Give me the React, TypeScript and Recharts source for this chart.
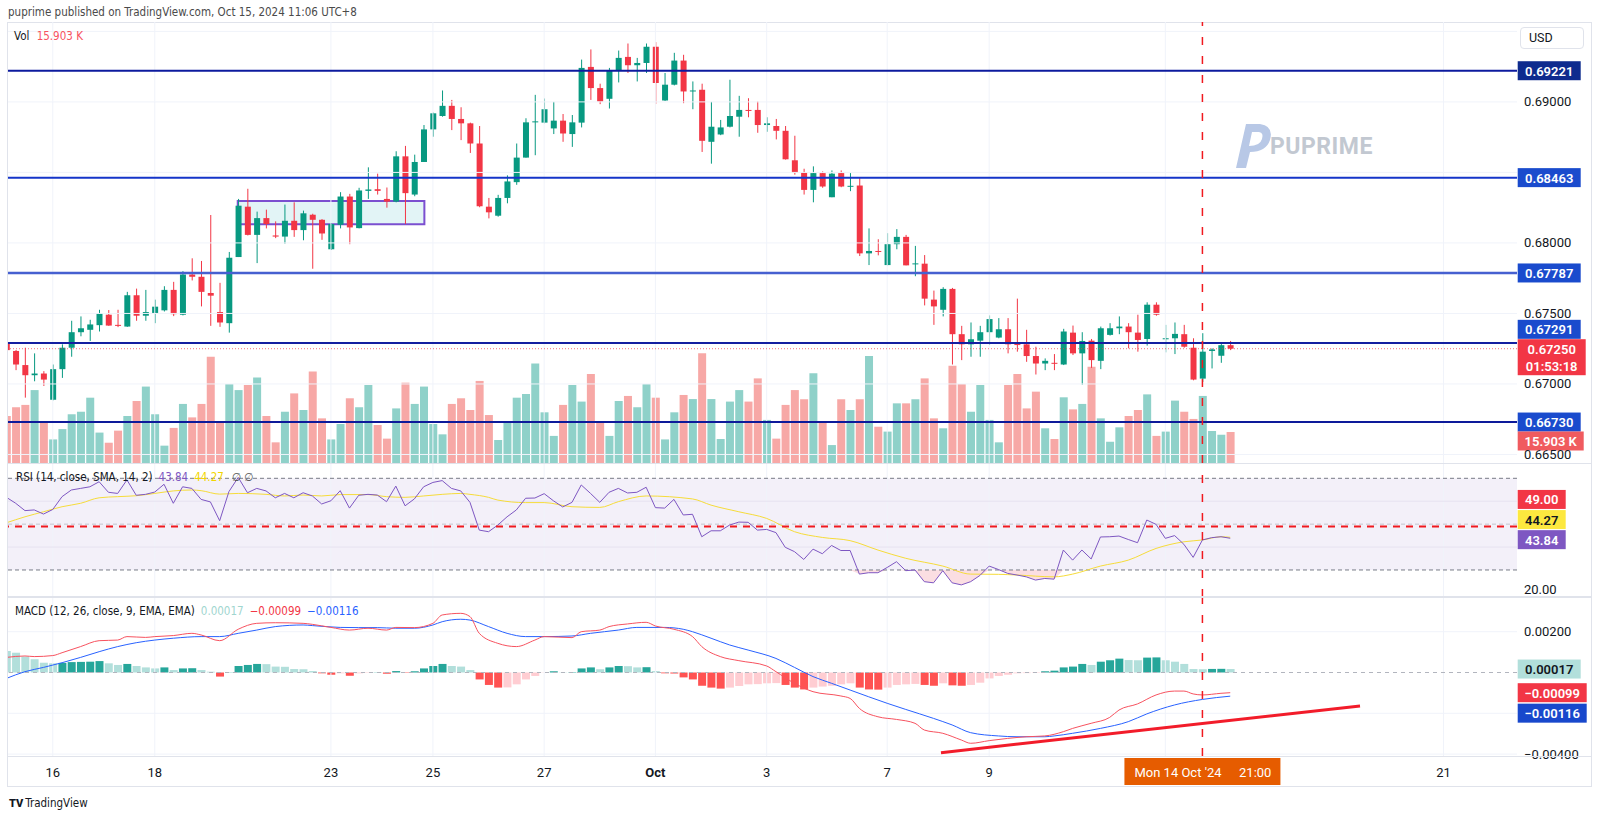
import React from "react";
import {
  ComposedChart,
  Bar,
  Line,
  Area,
  XAxis,
  YAxis,
  ReferenceLine,
  ReferenceArea,
  Cell,
} from "recharts";

const FONT = "Roboto, 'Noto Sans', sans-serif";
const NARROW = "'Liberation Sans Narrow', 'DejaVu Sans Condensed', Roboto, sans-serif";

const UP = "#089981";
const DOWN = "#f23645";
const GRID = "#f0f3fa";
const CURSOR = "#f0191f";

// x is the 4h candle index; index 0 is the half-hidden bar at the left edge
const X_DOMAIN: [number, number] = [0.17, 162.93];
const CURSOR_INDEX = 129;

const opens = [
  0.6729, 0.67234, 0.67134, 0.67062, 0.67074, 0.66888, 0.67105, 0.67257, 0.67367, 0.67384,
  0.67417, 0.67491, 0.67419, 0.67407, 0.67629, 0.67484, 0.67503, 0.67522, 0.67667, 0.67491,
  0.67776, 0.6776, 0.67645, 0.6751, 0.67431, 0.679, 0.68257, 0.68057, 0.68176, 0.68053,
  0.68045, 0.68157, 0.68091, 0.682, 0.68164, 0.67955, 0.68129, 0.68329, 0.68105, 0.68369,
  0.68381, 0.68312, 0.68293, 0.68614, 0.68343, 0.68574, 0.68805, 0.689, 0.68972, 0.68879,
  0.68848, 0.68705, 0.68257, 0.68193, 0.68319, 0.68431, 0.68605, 0.68855, 0.68853, 0.68812,
  0.68867, 0.68772, 0.68853, 0.69248, 0.69098, 0.69022, 0.69224, 0.69319, 0.6926, 0.69276,
  0.69391, 0.6901, 0.69122, 0.69293, 0.69074, 0.69086, 0.68717, 0.68769, 0.68824, 0.68895,
  0.68943, 0.68943, 0.68836, 0.68829, 0.68795, 0.68586, 0.68498, 0.68376, 0.68495, 0.68324,
  0.68495, 0.684, 0.68407, 0.67926, 0.67943, 0.67843, 0.67991, 0.68043, 0.67848, 0.67853,
  0.67598, 0.67526, 0.67674, 0.67353, 0.67281, 0.67307, 0.67367, 0.67329, 0.67388, 0.67283,
  0.67281, 0.67198, 0.67145, 0.6715, 0.67138, 0.67364, 0.67217, 0.67307, 0.67164, 0.67348,
  0.67395, 0.67407, 0.67364, 0.67319, 0.67562, 0.67319, 0.67324, 0.67353, 0.67257, 0.67038,
  0.67234, 0.672, 0.67275,
];
const highs = [
  0.673, 0.67241, 0.67257, 0.67217, 0.67091, 0.67138, 0.67281, 0.67448, 0.67479, 0.67455,
  0.67526, 0.67524, 0.67526, 0.67653, 0.67676, 0.67667, 0.67598, 0.67693, 0.67724, 0.678,
  0.67891, 0.67872, 0.68198, 0.67717, 0.67936, 0.68312, 0.68384, 0.68222, 0.68236, 0.68153,
  0.68272, 0.68288, 0.68229, 0.68207, 0.68169, 0.68141, 0.6836, 0.68348, 0.68391, 0.68536,
  0.68491, 0.68393, 0.6865, 0.68688, 0.68626, 0.68836, 0.68924, 0.69081, 0.69014, 0.68962,
  0.68853, 0.68829, 0.68319, 0.68341, 0.68479, 0.68705, 0.68884, 0.6905, 0.69024, 0.69,
  0.68914, 0.68907, 0.693, 0.69372, 0.69129, 0.69241, 0.69364, 0.69414, 0.69312, 0.69414,
  0.69424, 0.69205, 0.69348, 0.69334, 0.69145, 0.69129, 0.69, 0.68872, 0.69157, 0.69043,
  0.69026, 0.69003, 0.68891, 0.68879, 0.68829, 0.6876, 0.68526, 0.68543, 0.68507, 0.68514,
  0.68514, 0.68495, 0.6846, 0.68103, 0.68026, 0.68069, 0.68098, 0.68057, 0.67979, 0.67914,
  0.67662, 0.67686, 0.67681, 0.67412, 0.67436, 0.67412, 0.67486, 0.67467, 0.67467, 0.67605,
  0.67384, 0.67264, 0.67181, 0.67212, 0.67391, 0.67414, 0.67367, 0.67319, 0.67407, 0.67431,
  0.67479, 0.67431, 0.67491, 0.67579, 0.67579, 0.67419, 0.67436, 0.67419, 0.67324, 0.6736,
  0.67253, 0.6729, 0.67305,
];
const lows = [
  0.6721, 0.67098, 0.66903, 0.67019, 0.66986, 0.66884, 0.67043, 0.67193, 0.67338, 0.67305,
  0.67372, 0.67412, 0.67403, 0.67405, 0.67448, 0.67448, 0.67431, 0.67514, 0.67481, 0.67486,
  0.67734, 0.6755, 0.67412, 0.67405, 0.67364, 0.679, 0.68053, 0.67857, 0.68103, 0.68034,
  0.67995, 0.68043, 0.68019, 0.67817, 0.68022, 0.6795, 0.68103, 0.67991, 0.68103, 0.68312,
  0.68343, 0.6825, 0.68288, 0.68134, 0.68331, 0.68574, 0.68753, 0.68895, 0.688, 0.68729,
  0.68638, 0.68253, 0.68174, 0.68186, 0.68281, 0.68412, 0.68605, 0.68622, 0.68848, 0.68772,
  0.68717, 0.68681, 0.68819, 0.69014, 0.68984, 0.68953, 0.69138, 0.69205, 0.69145, 0.69205,
  0.68986, 0.69007, 0.69117, 0.68991, 0.68948, 0.68645, 0.68562, 0.68764, 0.68819, 0.68753,
  0.68891, 0.68781, 0.68788, 0.68734, 0.68591, 0.68484, 0.68343, 0.68288, 0.68391, 0.68324,
  0.68395, 0.68367, 0.67907, 0.67843, 0.67912, 0.67841, 0.67955, 0.67841, 0.67764, 0.67557,
  0.67419, 0.67479, 0.67138, 0.67169, 0.67193, 0.67193, 0.67276, 0.67324, 0.67217, 0.67229,
  0.67157, 0.67067, 0.67098, 0.67098, 0.67134, 0.67205, 0.66995, 0.67114, 0.67105, 0.67343,
  0.67353, 0.67253, 0.67229, 0.67272, 0.67484, 0.67224, 0.67212, 0.67257, 0.67026, 0.67014,
  0.6711, 0.6715, 0.6724,
];
const closes = [
  0.6724, 0.67138, 0.67062, 0.67074, 0.67031, 0.67105, 0.67257, 0.67367, 0.67395, 0.67422,
  0.67503, 0.67414, 0.67412, 0.67629, 0.67484, 0.6751, 0.67548, 0.67667, 0.67495, 0.67776,
  0.6776, 0.67653, 0.67626, 0.67436, 0.67895, 0.68264, 0.68057, 0.68176, 0.68134, 0.68045,
  0.68157, 0.68091, 0.6821, 0.68164, 0.68067, 0.68134, 0.68329, 0.6811, 0.68372, 0.68379,
  0.68369, 0.68293, 0.68614, 0.68353, 0.68574, 0.68805, 0.68919, 0.68972, 0.68879, 0.68848,
  0.68705, 0.6826, 0.68217, 0.68319, 0.68436, 0.68605, 0.68855, 0.68862, 0.68948, 0.68867,
  0.68776, 0.68855, 0.69241, 0.69098, 0.69003, 0.69224, 0.69312, 0.6926, 0.69276, 0.69391,
  0.69134, 0.69122, 0.69293, 0.69074, 0.69081, 0.68724, 0.68824, 0.68819, 0.689, 0.68943,
  0.68936, 0.68836, 0.68848, 0.68795, 0.68593, 0.68498, 0.68376, 0.68495, 0.684, 0.68491,
  0.684, 0.68405, 0.67926, 0.67943, 0.67938, 0.67991, 0.68043, 0.67841, 0.67855, 0.67605,
  0.6755, 0.67674, 0.67353, 0.67281, 0.67317, 0.67367, 0.6746, 0.67388, 0.67281, 0.67279,
  0.67198, 0.67145, 0.67164, 0.67145, 0.67372, 0.67217, 0.67305, 0.67169, 0.67395, 0.67395,
  0.67407, 0.67367, 0.67312, 0.67562, 0.67491, 0.67324, 0.67355, 0.67264, 0.67031, 0.67229,
  0.67245, 0.67275, 0.6725,
];
// volume in thousands
const volumes = [
  24.1, 28.6, 29.8, 37.4, 21.2, 12.1, 17.4, 25.0, 26.3, 33.5,
  15.6, 10.4, 16.6, 24.1, 31.8, 39.2, 25.0, 8.9, 18.0, 30.3,
  23.4, 30.3, 54.5, 20.7, 40.5, 37.4, 40.0, 43.9, 24.1, 10.6,
  26.3, 35.7, 27.2, 46.9, 22.9, 12.1, 20.0, 33.2, 28.6, 40.0,
  19.5, 12.5, 28.0, 41.2, 30.3, 39.2, 20.0, 14.7, 30.3, 33.2,
  27.2, 42.1, 24.6, 11.8, 21.2, 33.5, 35.4, 51.1, 26.0, 13.9,
  29.8, 40.0, 31.5, 45.7, 21.2, 13.9, 31.8, 34.4, 28.6, 40.5,
  33.5, 12.1, 26.0, 34.9, 32.8, 56.3, 32.8, 12.3, 31.5, 37.4,
  31.5, 43.4, 22.1, 12.5, 29.8, 37.4, 32.7, 46.0, 21.2, 9.2,
  32.7, 27.2, 32.7, 54.9, 18.6, 16.1, 30.6, 30.6, 32.7, 43.4,
  22.9, 17.8, 49.9, 40.5, 26.3, 40.0, 22.1, 10.6, 40.0, 45.7,
  28.0, 36.6, 17.8, 12.3, 33.7, 27.5, 30.3, 49.4, 22.9, 10.9,
  18.3, 24.1, 27.2, 35.2, 13.9, 16.1, 32.0, 26.3, 22.6, 34.4,
  16.4, 14.5, 15.9,
];
const rsiValues = [
  61.7, 59.1, 55.9, 56.2, 54.4, 56.4, 62.0, 64.9, 65.6, 66.3,
  68.5, 63.9, 63.4, 69.3, 62.6, 63.0, 64.0, 67.4, 59.1, 66.3,
  65.6, 60.8, 59.7, 51.5, 64.2, 70.4, 63.7, 65.6, 64.5, 61.5,
  63.4, 61.5, 63.7, 62.3, 58.8, 60.2, 64.6, 57.0, 62.6, 63.0,
  62.7, 59.8, 66.6, 58.0, 61.0, 66.3, 68.2, 69.0, 65.6, 64.5,
  59.5, 47.4, 46.7, 49.6, 53.2, 56.2, 61.3, 61.4, 63.3, 60.2,
  57.5, 59.5, 67.1, 63.4, 59.5, 63.9, 65.6, 63.6, 63.9, 66.1,
  57.2, 57.0, 60.8, 54.0, 54.3, 44.5, 47.1, 47.1, 49.6, 50.9,
  50.8, 47.4, 47.7, 46.3, 39.9, 38.0, 34.6, 39.1, 37.1, 40.7,
  38.5, 38.5, 28.2, 28.8, 28.8, 31.1, 33.6, 29.7, 30.0, 24.9,
  24.4, 29.7, 24.4, 23.5, 24.9, 27.6, 31.7, 30.2, 28.5, 27.8,
  27.0, 25.6, 26.3, 26.0, 38.7, 34.3, 38.7, 34.8, 44.4, 44.5,
  44.8, 43.3, 41.9, 51.8, 49.9, 43.8, 45.0, 41.2, 35.5, 43.1,
  44.1, 44.5, 43.84,
];
// [candle index, value]
const rsiSmaPoints: [number, number][] = [
  [0, 50.6], [2, 53.2], [4, 55.4], [6, 57.6], [8, 59.1], [10, 61.5], [12, 62.0], [14, 62.4],
  [16, 63.4], [18, 64.5], [20, 64.9], [21, 64.6], [23, 63.1], [25, 63.4], [28, 63.0], [30, 62.3],
  [32, 62.7], [34, 62.3], [36, 62.9], [39, 62.9], [41, 62.0], [43, 61.7], [45, 62.3], [47, 63.0],
  [49, 63.4], [50, 63.0], [52, 61.7], [53, 60.5], [56, 59.4], [58, 59.4], [61, 57.6], [64, 57.3],
  [66, 59.8], [69, 62.3], [74, 61.0], [76, 58.3], [79, 55.4], [82, 52.5], [85, 46.7], [88, 44.2],
  [91, 42.8], [94, 38.7], [97, 35.1], [101, 31.7], [104, 28.2], [107, 28.1], [109, 27.8], [113, 27.0],
  [115, 28.2], [118, 31.7], [121, 34.3], [124, 39.4], [127, 42.3], [129, 43.1], [131, 44.5], [132, 44.27],
];
const histValues = [
  0.00105, 0.00097, 0.00078, 0.00065, 0.00048, 0.00045, 0.00047, 0.00051, 0.00052, 0.00053,
  0.00056, 0.00045, 0.00037, 0.00042, 0.00032, 0.00025, 0.0002, 0.00025, 0.00012, 0.0002,
  0.00021, 0.00012, 0.00004, -0.0002, 0.00001, 0.00032, 0.00037, 0.00042, 0.00041, 0.00029,
  0.00028, 0.00017, 0.00016, 0.00007, -0.00004, -0.00011, -0.00004, -0.00016, -0.00004, -0.00002,
  0.00001, -0.00006, 0.00007, -0.00002, 0.00006, 0.0002, 0.00032, 0.00042, 0.00032, 0.00029,
  0.00012, -0.00034, -0.00061, -0.00074, -0.00073, -0.00058, -0.00034, -0.00017, -0.00001, 0.00006,
  0.00001, 0.00002, 0.0002, 0.00025, 0.00016, 0.00025, 0.00032, 0.00031, 0.00025, 0.00026,
  0.00007, -0.00004, -0.00005, -0.00024, -0.00034, -0.00065, -0.00074, -0.00079, -0.00074, -0.00066,
  -0.00058, -0.00057, -0.00053, -0.00052, -0.00061, -0.00074, -0.00083, -0.00074, -0.00069, -0.00065,
  -0.00058, -0.00053, -0.00074, -0.00083, -0.00084, -0.00074, -0.00061, -0.00058, -0.00056, -0.00061,
  -0.00065, -0.00053, -0.00063, -0.00065, -0.00061, -0.0005, -0.00029, -0.00017, -0.00011, -0.00004,
  -0.00003, -0.00002, 0.00006, 0.00009, 0.00025, 0.00029, 0.00042, 0.00037, 0.00053, 0.0006,
  0.00068, 0.00061, 0.0006, 0.00073, 0.00074, 0.0006, 0.00053, 0.00042, 0.00017, 0.00016,
  0.000175, 0.00018, 0.00017,
];
const macdPoints: [number, number][] = [
  [0, 0.00074], [2, 0.00081], [3, 0.00078], [5, 0.00083], [6, 0.00097], [8, 0.00127], [10, 0.00156],
  [12, 0.00159], [13, 0.00176], [15, 0.00172], [16, 0.00176], [18, 0.00181], [20, 0.00192], [21, 0.00184],
  [23, 0.00156], [25, 0.00212], [27, 0.00241], [29, 0.00244], [32, 0.00241], [33, 0.00236], [35, 0.00221],
  [37, 0.00208], [39, 0.00217], [41, 0.00208], [42, 0.00221], [44, 0.0022], [46, 0.00241], [47, 0.00282],
  [49, 0.0029], [50, 0.00274], [51, 0.00192], [53, 0.00143], [55, 0.00127], [57, 0.00159], [58, 0.00176],
  [61, 0.00171], [62, 0.002], [64, 0.00208], [65, 0.00225], [67, 0.00238], [69, 0.00246], [70, 0.00228],
  [72, 0.00212], [74, 0.00176], [75, 0.00127], [77, 0.00078], [79, 0.00058], [82, 0.00032], [83, 0.00004],
  [85, -0.00053], [87, -0.00094], [90, -0.00115], [91, -0.00127], [92, -0.00176], [94, -0.00217],
  [96, -0.0023], [98, -0.00249], [99, -0.00282], [101, -0.00298], [103, -0.00331], [104, -0.00347],
  [106, -0.00334], [108, -0.00323], [110, -0.00315], [112, -0.00311], [114, -0.0029], [115, -0.00274],
  [117, -0.00249], [119, -0.0022], [120, -0.00184], [122, -0.00154], [124, -0.0011], [126, -0.00091],
  [127, -0.00091], [128, -0.00105], [129, -0.0011], [131, -0.00102], [132, -0.00099],
];
const signalPoints: [number, number][] = [
  [0, -0.00029], [2, 0.00004], [4, 0.00025], [6, 0.00048], [8, 0.00074], [10, 0.00102], [12, 0.00127],
  [14, 0.00146], [16, 0.00159], [18, 0.00168], [21, 0.00176], [23, 0.00176], [25, 0.00192], [27, 0.00208],
  [29, 0.00225], [32, 0.00233], [33, 0.0023], [36, 0.00221], [38, 0.0022], [40, 0.0022], [42, 0.00217],
  [44, 0.00217], [46, 0.00233], [47, 0.00249], [49, 0.00261], [50, 0.00257], [52, 0.00225], [54, 0.00192],
  [56, 0.00176], [58, 0.00176], [61, 0.00179], [63, 0.00192], [66, 0.00208], [68, 0.00221], [71, 0.00221],
  [73, 0.00212], [74, 0.002], [76, 0.00168], [78, 0.00135], [80, 0.0011], [83, 0.00069], [85, 0.00025],
  [87, -0.0002], [89, -0.00053], [91, -0.00086], [93, -0.00119], [95, -0.00151], [97, -0.00181],
  [100, -0.00225], [102, -0.00257], [104, -0.00295], [107, -0.00311], [109, -0.00315], [112, -0.00315],
  [113, -0.00311], [115, -0.00298], [118, -0.00274], [121, -0.00241], [123, -0.00203], [126, -0.00159],
  [129, -0.00132], [132, -0.00116],
];

const dateTicks = [5, 16, 35, 46, 58, 70, 82, 95, 106, 125, 155];
const dateLabels = ["16", "18", "23", "25", "27", "Oct", "3", "7", "9", "14", "21"];

const priceTicks = [0.665, 0.67, 0.675, 0.68, 0.685, 0.69, 0.695];
const shownPriceTicks = [0.665, 0.67, 0.675, 0.68, 0.69];
const rsiTicks = [20, 40, 60];
const macdTicks = [0.002, 0, -0.002, -0.004];

const levels = [
  { value: 0.69221, line: "#0c1a9e", tag: "#0e2b8e", width: 2, dy: 0 },
  { value: 0.68463, line: "#1535c9", tag: "#1a4bcd", width: 2, dy: 0 },
  { value: 0.67787, line: "#4660d0", tag: "#1a4bcd", width: 2.5, dy: 0 },
  { value: 0.67291, line: "#141fa0", tag: "#1a4bcd", width: 2, dy: -13.6 },
  { value: 0.6673, line: "#0d1a9a", tag: "#1a4bcd", width: 2, dy: 0 },
];
const LAST_PRICE = 0.6725;
const LAST_VOLUME = 15.903;
const RSI_LAST = 43.84;
const RSI_SMA_LAST = 44.27;
const RSI_LEVEL = 49;
const MACD_LAST = { hist: 0.00017, macd: -0.00099, signal: -0.00116 };
const rangeBox = { x1: 24.95, x2: 45.08, y1: 0.68132, y2: 0.68297 };
const trendLine = [
  { x: 100.8, y: -0.00393 },
  { x: 146, y: -0.00164 },
];

const PRICE_DOMAIN: [number, number] = [0.664396, 0.695665];
const VOL_DOMAIN: [number, number] = [0, 226.2];
const RSI_DOMAIN: [number, number] = [18.21, 76.68];
const MACD_DOMAIN: [number, number] = [-0.004093, 0.003701];

const smaMap = new Map(rsiSmaPoints);
const macdMap = new Map(macdPoints);
const signalMap = new Map(signalPoints);

const rows = opens.map((o, i) => {
  const rsi = rsiValues[i];
  const prev = i > 0 ? histValues[i - 1] : histValues[i] + 0.0001;
  const h = histValues[i];
  return {
    i,
    o,
    h: highs[i],
    l: lows[i],
    c: closes[i],
    range: [lows[i], highs[i]],
    vol: volumes[i],
    up: closes[i] >= o,
    rsi,
    os: rsi < 30 ? [rsi, 30] : [30, 30],
    sma: smaMap.has(i) ? smaMap.get(i) : null,
    hist: h,
    histColor: h >= 0 ? (h > prev ? "#26a69a" : "#b2dfdb") : h > prev ? "#ffcdd2" : "#ff5252",
    macd: macdMap.has(i) ? macdMap.get(i) : null,
    signal: signalMap.has(i) ? signalMap.get(i) : null,
  };
});

function Candle(props: any) {
  const { x, y, width, height, payload } = props;
  if (x == null || payload == null) return <g />;
  const top = Math.min(y, y + height);
  const hgt = Math.abs(height);
  const span = payload.h - payload.l || 1e-9;
  const py = (p: number) => top + ((payload.h - p) / span) * hgt;
  const color = payload.up ? UP : DOWN;
  const cx = x + width / 2;
  const bTop = py(Math.max(payload.o, payload.c));
  const bBot = py(Math.min(payload.o, payload.c));
  return (
    <g>
      <line x1={cx} x2={cx} y1={top} y2={top + hgt} stroke={color} strokeWidth={1} />
      <rect x={cx - 3} y={bTop} width={6} height={Math.max(1, bBot - bTop)} fill={color} />
    </g>
  );
}

const tag =
  (text: string, bg: string, fg: string, dy: number, w: number) => (props: any) => {
    const vb = props.viewBox;
    if (!vb) return null;
    const x = vb.x + vb.width + 0.7;
    const y = vb.y + dy;
    return (
      <g>
        <rect x={x} y={y - 9.5} width={w} height={19} fill={bg} />
        <text
          x={x + w / 2}
          y={y + 0.5}
          textAnchor="middle"
          dominantBaseline="central"
          fill={fg}
          fontSize={13}
          fontWeight={600}
          fontFamily={FONT}
        >
          {text}
        </text>
      </g>
    );
  };

const lastPriceTag = (props: any) => {
  const vb = props.viewBox;
  if (!vb) return null;
  const x = vb.x + vb.width + 0.7;
  const y = vb.y;
  return (
    <g>
      <rect x={x} y={y - 9.5} width={68} height={36} fill="#f23645" />
      <text x={x + 34} y={y + 0.5} textAnchor="middle" dominantBaseline="central" fill="#fff" fontSize={13} fontWeight={600} fontFamily={FONT}>
        {LAST_PRICE.toFixed(5)}
      </text>
      <text x={x + 34} y={y + 17.5} textAnchor="middle" dominantBaseline="central" fill="#fff" fontSize={13} fontWeight={600} fontFamily={FONT}>
        01:53:18
      </text>
    </g>
  );
};

const timeTag = (props: any) => {
  const vb = props.viewBox;
  if (!vb) return null;
  const x = vb.x;
  const y = vb.y + vb.height + 2;
  return (
    <g>
      <rect x={x - 78} y={y} width={156} height={27} fill="#e65c00" />
      <text x={x - 68} y={y + 14} dominantBaseline="central" fill="#fff" fontSize={13} fontFamily={FONT}>
        Mon 14 Oct '24
      </text>
      <text x={x + 69} y={y + 14} textAnchor="end" dominantBaseline="central" fill="#fff" fontSize={13} fontFamily={FONT}>
        21:00
      </text>
    </g>
  );
};

const axisText = (y: number, label: string) => (
  <text x={1524} y={y} dominantBaseline="central" fontSize={13} fill="#131722" fontFamily={FONT}>
    {label}
  </text>
);

function PriceTick(props: any) {
  const v = props.payload?.value;
  if (!shownPriceTicks.includes(v)) return <g />;
  return axisText(props.y, v.toFixed(5));
}
function RsiTick(props: any) {
  const v = props.payload?.value;
  if (v !== 20) return <g />;
  return axisText(props.y - 3, v.toFixed(2));
}
function MacdTick(props: any) {
  const v = props.payload?.value;
  if (v !== 0.002 && v !== -0.004) return <g />;
  return axisText(props.y, v < 0 ? "\u2212" + Math.abs(v).toFixed(5) : v.toFixed(5));
}
function TimeTick(props: any) {
  const idx = dateTicks.indexOf(props.payload?.value);
  const label = dateLabels[idx];
  if (!label || label === "14") return <g />;
  return (
    <text
      x={props.x}
      y={175}
      textAnchor="middle"
      dominantBaseline="central"
      fontSize={13}
      fontWeight={label === "Oct" ? 700 : 400}
      fill="#131722"
      fontFamily={FONT}
    >
      {label}
    </text>
  );
}

const MARGIN = { top: 0, right: 8, bottom: 0, left: 8 };
const P = { xAxisId: "p", yAxisId: "p" } as const;

function vGrid(ids: { xAxisId: string; yAxisId: string }) {
  return dateTicks.map((t) => (
    <ReferenceLine key={"vg" + t} x={t} {...ids} stroke={GRID} strokeWidth={1} />
  ));
}

function PricePane() {
  return (
    <ComposedChart width={1600} height={441} data={rows} margin={MARGIN}>
      <XAxis xAxisId="p" type="number" dataKey="i" domain={X_DOMAIN} allowDataOverflow hide />
      <XAxis xAxisId="v" type="number" dataKey="i" domain={X_DOMAIN} allowDataOverflow hide />
      <YAxis
        yAxisId="p"
        orientation="right"
        width={75}
        domain={PRICE_DOMAIN}
        allowDataOverflow
        ticks={priceTicks}
        interval={0}
        tick={<PriceTick />}
        axisLine={false}
        tickLine={false}
      />
      <YAxis yAxisId="v" hide domain={VOL_DOMAIN} allowDataOverflow />
      {vGrid(P)}
      {priceTicks.map((t) => (
        <ReferenceLine key={"hg" + t} y={t} {...P} stroke={GRID} strokeWidth={1} />
      ))}
      <Bar xAxisId="v" yAxisId="v" dataKey="vol" barSize={8} isAnimationActive={false}>
        {rows.map((r) => (
          <Cell key={r.i} fill={r.up ? "#8fd1c9" : "#f7a8a6"} />
        ))}
      </Bar>
      <ReferenceArea
        {...P}
        x1={rangeBox.x1}
        x2={rangeBox.x2}
        y1={rangeBox.y1}
        y2={rangeBox.y2}
        fill="#bfe6ec"
        fillOpacity={0.45}
        stroke="#7b4fd0"
        strokeWidth={2}
      />
      <Bar {...P} dataKey="range" barSize={8} isAnimationActive={false} shape={(p: any) => <Candle {...p} />} />
      {levels.map((lv) => (
        <ReferenceLine
          key={lv.value}
          {...P}
          y={lv.value}
          stroke={lv.line}
          strokeWidth={lv.width}
          label={tag(lv.value.toFixed(5), lv.tag, "#fff", lv.dy, 63)}
        />
      ))}
      <ReferenceLine {...P} y={LAST_PRICE} stroke="#f23645" strokeDasharray="1 2" strokeOpacity={0.7} label={lastPriceTag} />
      <ReferenceLine
        xAxisId="v"
        yAxisId="v"
        y={LAST_VOLUME}
        stroke="none"
        label={tag(LAST_VOLUME.toFixed(3) + " K", "#f05b5f", "#fff", 9, 66)}
      />
      <ReferenceLine {...P} x={CURSOR_INDEX} stroke={CURSOR} strokeWidth={1.5} strokeDasharray="8 11" />
    </ComposedChart>
  );
}

function RsiPane() {
  const ids = { xAxisId: "r", yAxisId: "r" };
  return (
    <ComposedChart width={1600} height={134} data={rows} margin={MARGIN}>
      <XAxis xAxisId="r" type="number" dataKey="i" domain={X_DOMAIN} allowDataOverflow hide />
      <YAxis
        yAxisId="r"
        orientation="right"
        width={75}
        domain={RSI_DOMAIN}
        allowDataOverflow
        ticks={rsiTicks}
        interval={0}
        tick={<RsiTick />}
        axisLine={false}
        tickLine={false}
      />
      <ReferenceArea {...ids} y1={30} y2={70} fill="#7e57c2" fillOpacity={0.09} stroke="none" />
      {vGrid(ids)}
      <ReferenceLine {...ids} y={60} stroke="#e6e2f0" />
      <ReferenceLine {...ids} y={40} stroke="#e6e2f0" />
      <ReferenceLine {...ids} y={70} stroke="#787b86" strokeDasharray="4 3" />
      <ReferenceLine {...ids} y={50} stroke="#a5a7b0" strokeDasharray="4 3" strokeOpacity={0.6} />
      <ReferenceLine {...ids} y={30} stroke="#787b86" strokeDasharray="4 3" />
      <Area {...ids} dataKey="os" stroke="none" fill="#f7c3cb" fillOpacity={0.55} isAnimationActive={false} />
      <Line {...ids} dataKey="sma" stroke="#f6dc3a" strokeWidth={1} dot={false} activeDot={false} connectNulls type="monotone" isAnimationActive={false} />
      <Line {...ids} dataKey="rsi" stroke="#7e57c2" strokeWidth={1} dot={false} activeDot={false} isAnimationActive={false} />
      <ReferenceLine
        {...ids}
        y={RSI_LEVEL}
        stroke={CURSOR}
        strokeWidth={2}
        strokeDasharray="7 6"
        label={tag(RSI_LEVEL.toFixed(2), "#f23645", "#fff", -27, 48)}
      />
      <ReferenceLine {...ids} y={RSI_SMA_LAST} stroke="none" label={tag(RSI_SMA_LAST.toFixed(2), "#fde83f", "#131722", -17.7, 48)} />
      <ReferenceLine {...ids} y={RSI_LAST} stroke="none" label={tag(RSI_LAST.toFixed(2), "#7e57c2", "#fff", 1.4, 48)} />
      <ReferenceLine {...ids} x={CURSOR_INDEX} stroke={CURSOR} strokeWidth={1.5} strokeDasharray="8 11" />
    </ComposedChart>
  );
}

function MacdPane() {
  const ids = { xAxisId: "m", yAxisId: "m" };
  return (
    <ComposedChart width={1600} height={191} data={rows} margin={MARGIN}>
      <XAxis
        xAxisId="m"
        type="number"
        dataKey="i"
        domain={X_DOMAIN}
        allowDataOverflow
        height={32}
        ticks={dateTicks}
        interval={0}
        tick={<TimeTick />}
        axisLine={false}
        tickLine={false}
      />
      <YAxis
        yAxisId="m"
        orientation="right"
        width={75}
        domain={MACD_DOMAIN}
        allowDataOverflow
        ticks={macdTicks}
        interval={0}
        tick={<MacdTick />}
        axisLine={false}
        tickLine={false}
      />
      {vGrid(ids)}
      <ReferenceLine {...ids} y={0.002} stroke={GRID} />
      <ReferenceLine {...ids} y={-0.002} stroke={GRID} />
      <ReferenceLine {...ids} y={-0.004} stroke={GRID} />
      <ReferenceLine {...ids} y={0} stroke="#b2b5be" strokeDasharray="4 4" />
      <Bar {...ids} dataKey="hist" barSize={8} isAnimationActive={false}>
        {rows.map((r) => (
          <Cell key={r.i} fill={r.histColor} />
        ))}
      </Bar>
      <Line {...ids} dataKey="signal" stroke="#2962ff" strokeWidth={1} dot={false} activeDot={false} connectNulls type="monotone" isAnimationActive={false} />
      <Line {...ids} dataKey="macd" stroke="#f7525f" strokeWidth={1} dot={false} activeDot={false} connectNulls type="monotone" isAnimationActive={false} />
      <ReferenceLine {...ids} segment={trendLine} stroke="#f21c2a" strokeWidth={3} />
      <ReferenceLine {...ids} y={MACD_LAST.hist} stroke="none" label={tag("0.00017", "#b2dfdb", "#131722", 0, 63)} />
      <ReferenceLine {...ids} y={MACD_LAST.macd} stroke="none" label={tag("\u22120.00099", "#f23645", "#fff", 0, 69)} />
      <ReferenceLine {...ids} y={MACD_LAST.signal} stroke="none" label={tag("\u22120.00116", "#1848cc", "#fff", 17, 69)} />
      <ReferenceLine {...ids} x={CURSOR_INDEX} stroke={CURSOR} strokeWidth={1.5} strokeDasharray="8 11" label={timeTag} />
    </ComposedChart>
  );
}

const abs = (left: number, top: number, extra: React.CSSProperties = {}): React.CSSProperties => ({
  position: "absolute",
  left,
  top,
  ...extra,
});

export default function App() {
  return (
    <div style={abs(0, 0, { width: 1600, height: 819, background: "#fff", overflow: "hidden", fontFamily: FONT })}>
      <div style={abs(8, 5, { fontSize: 11.5, color: "#4a4a4a", fontFamily: NARROW, whiteSpace: "nowrap" })}>
        puprime published on TradingView.com, Oct 15, 2024 11:06 UTC+8
      </div>
      <div style={abs(7, 22, { width: 1585, height: 765, border: "1px solid #e0e3eb", boxSizing: "border-box" })} />

      <div style={abs(0, 22)}>
        <PricePane />
      </div>
      <div style={abs(0, 463)}>
        <RsiPane />
      </div>
      <div style={abs(0, 597)}>
        <MacdPane />
      </div>

      <div style={abs(8, 463, { width: 1584, height: 1, background: "#e0e3eb" })} />
      <div style={abs(8, 596, { width: 1584, height: 2, background: "#e0e3eb" })} />
      <div style={abs(8, 756, { width: 1584, height: 1, background: "#e0e3eb" })} />

      <div style={abs(14, 29, { fontSize: 11.5, color: "#131722", whiteSpace: "nowrap", fontFamily: NARROW })}>
        Vol <span style={{ color: "#f7525f", marginLeft: 4 }}>15.903 K</span>
      </div>
      <div style={abs(16, 470, { fontSize: 11.5, color: "#131722", whiteSpace: "nowrap", fontFamily: NARROW })}>
        RSI (14, close, SMA, 14, 2)
        <span style={{ color: "#7e57c2", marginLeft: 6 }}>43.84</span>
        <span style={{ color: "#f2d600", marginLeft: 6 }}>44.27</span>
        <span style={{ color: "#555", marginLeft: 8 }}>∅ ∅</span>
      </div>
      <div style={abs(15, 604, { fontSize: 11.5, color: "#131722", whiteSpace: "nowrap", fontFamily: NARROW })}>
        MACD (12, 26, close, 9, EMA, EMA)
        <span style={{ color: "#9fd6cf", marginLeft: 6 }}>0.00017</span>
        <span style={{ color: "#f23645", marginLeft: 6 }}>{"\u22120.00099"}</span>
        <span style={{ color: "#2962ff", marginLeft: 6 }}>{"\u22120.00116"}</span>
      </div>

      <div
        style={abs(1520, 27, {
          width: 64,
          height: 22,
          border: "1px solid #e0e3eb",
          borderRadius: 4,
          boxSizing: "border-box",
          fontSize: 12.5,
          color: "#131722",
          lineHeight: "20px",
          paddingLeft: 8,
        })}
      >
        USD
      </div>

      <svg style={abs(1222, 120)} width={160} height={52}>
        <path d="M14 48 L24 4 L38 4 Q52 6 48 20 Q44 32 28 32 L24 48 Z" fill="#b8c8e6" />
        <path d="M27 26 L30 12 L37 12 Q42 13 40 19 Q38 26 27 26 Z" fill="#fff" />
        <text x={48} y={34} fontSize={23} fontWeight={700} fill="#c2c8d1" fontFamily={FONT} letterSpacing={0.5}>
          PUPRIME
        </text>
      </svg>

      <div style={abs(9, 796, { fontSize: 11.5, color: "#131722", whiteSpace: "nowrap", fontFamily: NARROW })}>
        <span style={{ fontWeight: 900, fontFamily: FONT, fontSize: 11, marginRight: 2 }}>TV</span>TradingView
      </div>
    </div>
  );
}
